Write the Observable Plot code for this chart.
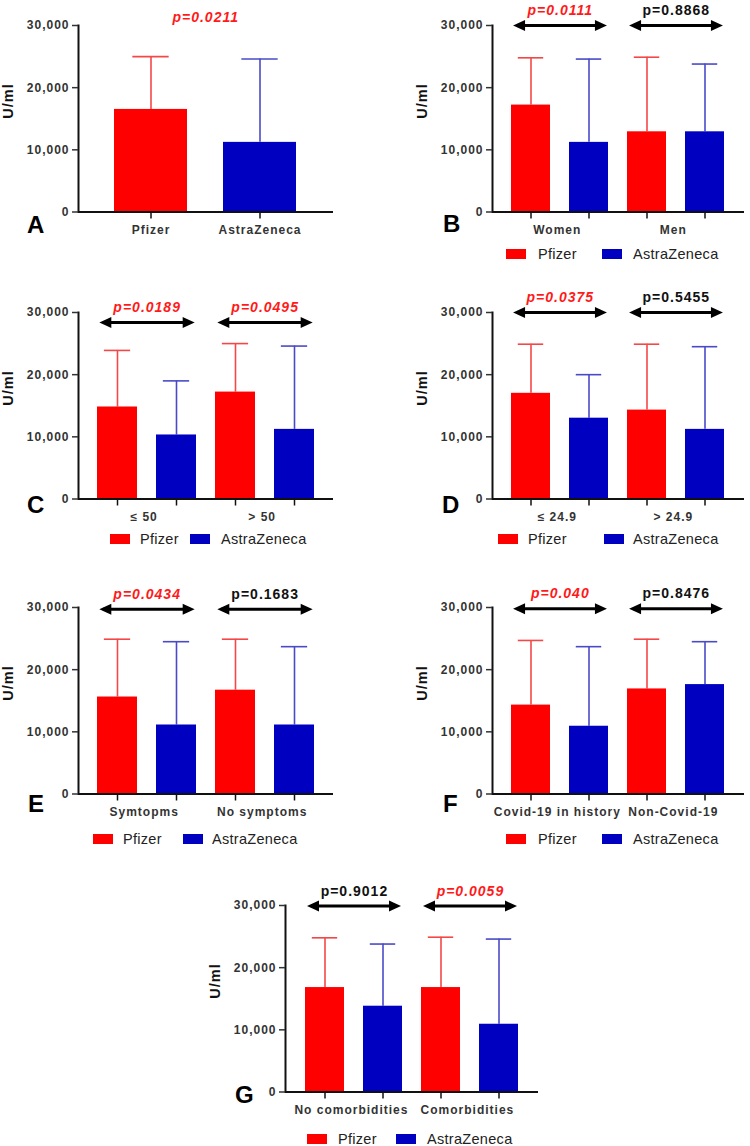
<!DOCTYPE html>
<html>
<head>
<meta charset="utf-8">
<script src="https://cdn.jsdelivr.net/npm/d3@7"></script>
<script src="https://cdn.jsdelivr.net/npm/@observablehq/plot@0.6"></script>
<style>
  body { margin: 0; background: #fff; }
  #root { position: relative; width: 750px; height: 1146px; overflow: hidden; background: #fff;
          font-family: "Liberation Sans", Arial, Helvetica, sans-serif; }
  #root svg { position: absolute; overflow: visible; }
  #root svg.panel text { letter-spacing: 1px; }
  #root svg.overlay text.legend { letter-spacing: 0.3px; }
</style>
</head>
<body>
<div id="root"></div>
<script>
// ---------- data ----------
const vaccines = ["Pfizer", "AstraZeneca"];
const barColors = {Pfizer: "#ff0000", AstraZeneca: "#0000c0"};
const errColors = {Pfizer: "#f44848", AstraZeneca: "#4a4ac8"};
const yTicks = [0, 10000, 20000, 30000];

// Panel A
const meanA = [16500, 11200];
const errA = [25000, 24600];
const pA = "p=0.0211";

// Panel B
const groupsB = ["Women", "Men"];
const pfizerB = [17200, 12900];
const pfizerErrB = [24800, 24900];
const azB = [11200, 12900];
const azErrB = [24600, 23800];
const pB = ["p=0.0111", "p=0.8868"];
const sigB = [true, false];
const bracketB = 30000;

// Panel C
const groupsC = ["≤ 50", "> 50"];
const pfizerC = [14800, 17200];
const pfizerErrC = [23900, 25000];
const azC = [10300, 11200];
const azErrC = [19000, 24600];
const pC = ["p=0.0189", "p=0.0495"];
const sigC = [true, true];
const bracketC = 28400;

// Panel D
const groupsD = ["≤ 24.9", "> 24.9"];
const pfizerD = [17000, 14300];
const pfizerErrD = [24900, 24900];
const azD = [13000, 11200];
const azErrD = [20000, 24500];
const pD = ["p=0.0375", "p=0.5455"];
const sigD = [true, false];
const bracketD = 30000;

// Panel E
const groupsE = ["Symtopms", "No symptoms"];
const pfizerE = [15600, 16700];
const pfizerErrE = [24900, 24900];
const azE = [11100, 11100];
const azErrE = [24500, 23700];
const pE = ["p=0.0434", "p=0.1683"];
const sigE = [true, false];
const bracketE = 29700;

// Panel F
const groupsF = ["Covid-19 in history", "Non-Covid-19"];
const pfizerF = [14300, 16900];
const pfizerErrF = [24700, 24900];
const azF = [10900, 17600];
const azErrF = [23700, 24500];
const pF = ["p=0.040", "p=0.8476"];
const sigF = [true, false];
const bracketF = 29800;

// Panel G
const groupsG = ["No comorbidities", "Comorbidities"];
const pfizerG = [16800, 16800];
const pfizerErrG = [24800, 24900];
const azG = [13800, 10900];
const azErrG = [23800, 24600];
const pG = ["p=0.9012", "p=0.0059"];
const sigG = [false, true];
const bracketG = 29900;

// ---------- layout ----------
const FONT = '"Liberation Sans", Arial, Helvetica, sans-serif';
const W = 375, H = 245, MT = 25, FH = 186.5, MB = H - MT - FH;
const root = document.getElementById("root");

const headRight = {draw(ctx) { ctx.moveTo(0, 0); ctx.lineTo(-12, -5.5); ctx.lineTo(-12, 5.5); ctx.closePath(); }};
const headLeft  = {draw(ctx) { ctx.moveTo(0, 0); ctx.lineTo(12, -5.5);  ctx.lineTo(12, 5.5);  ctx.closePath(); }};

const labelStyle = {fontWeight: "bold", fontSize: 12, fill: "#333", lineAnchor: "middle"};
const pStyle = {fontWeight: "bold", fontSize: 14, lineAnchor: "middle"};

function geom(ml, mr, n, pi, po) {
  const fw = W - ml - mr;
  const step = fw / (n - pi + 2 * po);
  return {step, bw: step * (1 - pi)};
}

function barMarks(rows, capInset) {
  return [
    Plot.ruleX(rows, {x: "key", y1: "mean", y2: "err", stroke: d => errColors[d.vaccine], strokeWidth: 1.6}),
    Plot.tickY(rows, {x: "key", y: "err", stroke: d => errColors[d.vaccine], strokeWidth: 1.6, insetLeft: capInset, insetRight: capInset}),
    Plot.barY(rows, {x: "key", y: "mean", fill: d => barColors[d.vaccine]})
  ];
}

function panelPlot({keys, pi, po, ml, mr, marks}) {
  return Plot.plot({
    width: W, height: H,
    marginTop: MT, marginBottom: MB, marginLeft: ml, marginRight: mr,
    style: {fontFamily: FONT, background: "transparent", overflow: "visible"},
    className: "panel",
    x: {type: "band", domain: keys, paddingInner: pi, paddingOuter: po, label: null},
    y: {domain: [0, 30000], label: null},
    color: {type: "identity"},
    marks: [
      ...marks,
      Plot.ruleY([0], {stroke: "#111", strokeWidth: 1.8}),
      Plot.frame({anchor: "left", stroke: "#111", strokeWidth: 2}),
      Plot.axisY({ticks: yTicks, tickFormat: d3.format(","), tickSize: 6, tickPadding: 3,
                  fontSize: 12, fontWeight: "bold", color: "#333", label: null, strokeWidth: 1.5}),
      Plot.axisX({tickSize: 7, tickFormat: () => "", label: null, color: "#111", strokeWidth: 1.5}),
      Plot.text(["U/ml"], {frameAnchor: "left", rotate: -90, dx: -70, fontWeight: "bold", fontSize: 14.5, fill: "#111"})
    ]
  });
}

function place(el, left, top) {
  el.classList.add("panel");
  el.style.position = "absolute";
  el.style.left = left + "px";
  el.style.top = top + "px";
  el.style.maxWidth = "none";
  root.appendChild(el);
}

// Panel A
(function () {
  const ml = 78, mr = 42, pi = 0.33, po = 0.33;
  const rows = vaccines.map((v, i) => ({key: v, vaccine: v, mean: meanA[i], err: errA[i]}));
  const keys = rows.map(d => d.key);
  const {step, bw} = geom(ml, mr, keys.length, pi, po);
  const el = panelPlot({keys, pi, po, ml, mr, marks: [
    ...barMarks(rows, bw * 0.25),
    Plot.text(rows, {x: "key", text: "key", frameAnchor: "bottom", dy: 18, ...labelStyle}),
    Plot.text([{k: vaccines[0], p: pA, y: 30000}], {x: "k", y: "y", text: "p", dx: step / 2, dy: -8,
               fill: "#ff1a1a", fontStyle: "italic", ...pStyle})
  ]});
  place(el, 0, 0);
})();

function groupedPanel(cfg) {
  const {groups, pfizer, pfizerErr, az, azErr, p, sig, bracket, ml, mr, left, top} = cfg;
  const pi = 0.32, po = 0.31;
  const rows = groups.flatMap((g, i) => [
    {key: g + "|" + vaccines[0], vaccine: vaccines[0], mean: pfizer[i], err: pfizerErr[i]},
    {key: g + "|" + vaccines[1], vaccine: vaccines[1], mean: az[i], err: azErr[i]}
  ]);
  const keys = rows.map(d => d.key);
  const {step, bw} = geom(ml, mr, keys.length, pi, po);
  const br = groups.map((g, i) => ({group: g, k1: g + "|" + vaccines[0], k2: g + "|" + vaccines[1],
                                    p: p[i], sig: sig[i], y: bracket}));
  const el = panelPlot({keys, pi, po, ml, mr, marks: [
    ...barMarks(rows, bw * 0.17),
    Plot.text(br, {x: "k1", text: "group", frameAnchor: "bottom", dy: 18, dx: step / 2 - 3, ...labelStyle}),
    Plot.ruleY(br, {x1: "k1", x2: "k2", y: "y", stroke: "#000", strokeWidth: 3, insetLeft: 6, insetRight: 6}),
    Plot.dot(br, {x: "k1", y: "y", symbol: headLeft, fill: "#000", stroke: "none", dx: -bw / 2 + 2}),
    Plot.dot(br, {x: "k2", y: "y", symbol: headRight, fill: "#000", stroke: "none", dx: bw / 2 - 2}),
    Plot.text(br.filter(d => d.sig), {x: "k1", y: "y", text: "p", dx: step / 2, dy: -15,
               fill: "#ff1a1a", fontStyle: "italic", ...pStyle}),
    Plot.text(br.filter(d => !d.sig), {x: "k1", y: "y", text: "p", dx: step / 2, dy: -15,
               fill: "#111", ...pStyle})
  ]});
  place(el, left, top);
}

const LEFT = {ml: 78, mr: 42, left: 0};
const RIGHT = {ml: 117, mr: 6, left: 375};

groupedPanel({groups: groupsB, pfizer: pfizerB, pfizerErr: pfizerErrB, az: azB, azErr: azErrB, p: pB, sig: sigB, bracket: bracketB, ...RIGHT, top: 0});
groupedPanel({groups: groupsC, pfizer: pfizerC, pfizerErr: pfizerErrC, az: azC, azErr: azErrC, p: pC, sig: sigC, bracket: bracketC, ...LEFT, top: 287});
groupedPanel({groups: groupsD, pfizer: pfizerD, pfizerErr: pfizerErrD, az: azD, azErr: azErrD, p: pD, sig: sigD, bracket: bracketD, ...RIGHT, top: 287});
groupedPanel({groups: groupsE, pfizer: pfizerE, pfizerErr: pfizerErrE, az: azE, azErr: azErrE, p: pE, sig: sigE, bracket: bracketE, ...LEFT, top: 582});
groupedPanel({groups: groupsF, pfizer: pfizerF, pfizerErr: pfizerErrF, az: azF, azErr: azErrF, p: pF, sig: sigF, bracket: bracketF, ...RIGHT, top: 582});
groupedPanel({groups: groupsG, pfizer: pfizerG, pfizerErr: pfizerErrG, az: azG, azErr: azErrG, p: pG, sig: sigG, bracket: bracketG, ml: 85, mr: 37, left: 200, top: 880});

// ---------- panel letters & legends ----------
const letters = [
  {t: "A", x: 27, y: 233}, {t: "B", x: 443, y: 232},
  {t: "C", x: 27, y: 513}, {t: "D", x: 442, y: 513},
  {t: "E", x: 28, y: 812}, {t: "F", x: 443, y: 812},
  {t: "G", x: 235, y: 1103}
];
const legends = [
  {y: 254, pos: [[506, 538], [602, 633]]},
  {y: 539, pos: [[110, 140], [190, 221]]},
  {y: 539, pos: [[498, 528], [604, 633]]},
  {y: 839, pos: [[93, 123], [183, 212]]},
  {y: 839, pos: [[506, 538], [602, 633]]},
  {y: 1139, pos: [[307, 338], [396, 427]]}
];

const ov = d3.create("svg").attr("class", "overlay").attr("width", 750).attr("height", 1146)
  .style("left", "0px").style("top", "0px").style("font-family", FONT);
ov.selectAll("text.letter").data(letters).join("text").attr("class", "letter")
  .attr("x", d => d.x).attr("y", d => d.y).attr("font-size", 24).attr("font-weight", "bold")
  .attr("fill", "#000").text(d => d.t);
legends.forEach(lg => {
  lg.pos.forEach(([sx, tx], i) => {
    ov.append("rect").attr("x", sx).attr("y", lg.y - 5).attr("width", 20).attr("height", 10)
      .attr("fill", barColors[vaccines[i]]);
    ov.append("text").attr("class", "legend").attr("x", tx).attr("y", lg.y)
      .attr("dominant-baseline", "central").attr("font-size", 14.5).attr("fill", "#222")
      .text(vaccines[i]);
  });
});
root.appendChild(ov.node());
</script>
</body>
</html>
